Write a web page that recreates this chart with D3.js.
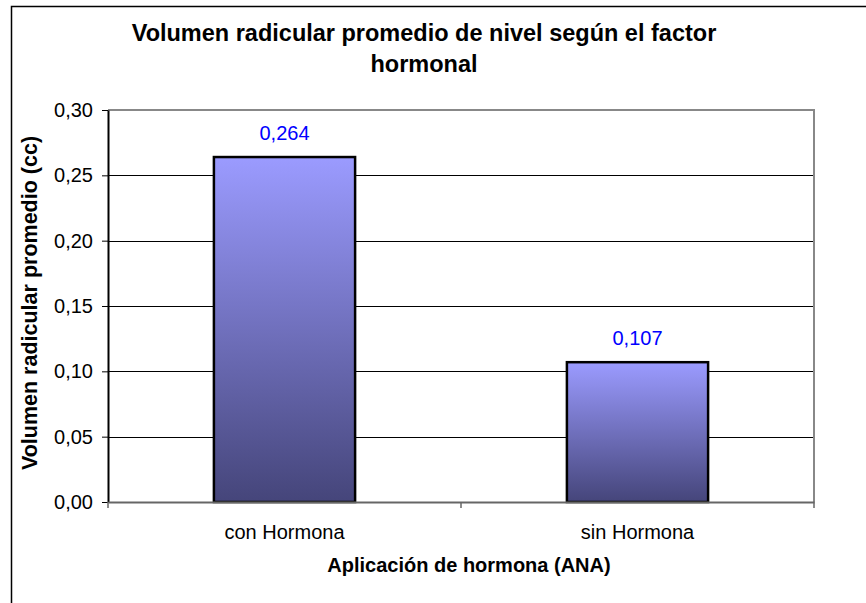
<!DOCTYPE html>
<html>
<head>
<meta charset="utf-8">
<script src="https://cdn.jsdelivr.net/npm/d3@7"></script>
<style>
  body { margin: 0; background: #fff; }
  text { font-family: "Liberation Sans", Arial, sans-serif; }
</style>
</head>
<body>
<div id="chart"></div>
<script>
// data
var categories = ["con Hormona", "sin Hormona"];
var values = [0.264, 0.107];
var yTicks = [0, 0.05, 0.10, 0.15, 0.20, 0.25, 0.30];

var W = 866, H = 603;
var margin = {top: 110, right: 52, bottom: 101, left: 108},
    width = W - margin.left - margin.right,
    height = H - margin.top - margin.bottom;

var comma = function(v, n) { return v.toFixed(n).replace(".", ","); };

var svg = d3.select("#chart").append("svg")
  .attr("width", W).attr("height", H);

// outer chart frame (right and bottom edges fall outside the picture)
svg.append("rect")
  .attr("x", 11.5).attr("y", 6.5)
  .attr("width", W + 20).attr("height", H + 20)
  .attr("fill", "#fff").attr("stroke", "#000").attr("stroke-width", 1.5);

var defs = svg.append("defs");
var grad = defs.append("linearGradient")
  .attr("id", "barFill").attr("x1", 0).attr("y1", 0).attr("x2", 0).attr("y2", 1);
grad.append("stop").attr("offset", "0%").attr("stop-color", "#9b9bff");
grad.append("stop").attr("offset", "100%").attr("stop-color", "#45457a");

var g = svg.append("g").attr("transform", "translate(" + margin.left + "," + margin.top + ")");

var x = d3.scaleBand().domain(categories).range([0, width]).paddingInner(0.6).paddingOuter(0.3);
var xCat = d3.scaleBand().domain(categories).range([0, width]);
var y = d3.scaleLinear().domain([0, 0.30]).range([height, 0]);

// gridlines
g.append("g")
  .selectAll("line")
  .data(yTicks.slice(1, -1))
  .enter().append("line")
  .attr("x1", 0).attr("x2", width)
  .attr("y1", function(d) { return Math.round(y(d)) + 0.5; })
  .attr("y2", function(d) { return Math.round(y(d)) + 0.5; })
  .attr("stroke", "#000").attr("stroke-width", 1);

// plot area top and right edges in gray
g.append("path")
  .attr("d", "M0," + y(0.30) + "H" + width + "V" + height)
  .attr("fill", "none").attr("stroke", "#888").attr("stroke-width", 2);

// bars
g.selectAll(".bar")
  .data(values)
  .enter().append("rect")
  .attr("class", "bar")
  .attr("x", function(d, i) { return x(categories[i]); })
  .attr("width", x.bandwidth())
  .attr("y", function(d) { return y(d); })
  .attr("height", function(d) { return height - y(d); })
  .attr("fill", "url(#barFill)")
  .attr("stroke", "#000").attr("stroke-width", 2.5);

// value labels
g.selectAll(".lbl")
  .data(values)
  .enter().append("text")
  .attr("x", function(d, i) { return x(categories[i]) + x.bandwidth() / 2; })
  .attr("y", function(d) { return y(d) - 17; })
  .attr("text-anchor", "middle")
  .attr("font-size", 20)
  .attr("fill", "#0000ff")
  .text(function(d) { return comma(d, 3); });

// y axis
var yAxis = g.append("g")
  .call(d3.axisLeft(y).tickValues(yTicks).tickSize(6).tickSizeOuter(0)
    .tickFormat(function(d) { return comma(d, 2); }));
yAxis.select(".domain").attr("stroke", "#000").attr("stroke-width", 2);
yAxis.selectAll(".tick line").attr("stroke", "#000");
yAxis.selectAll(".tick text").attr("font-size", 20).attr("fill", "#000")
  .attr("x", -15).attr("font-family", "Liberation Sans, Arial, sans-serif");

// x axis
var xAxis = g.append("g")
  .attr("transform", "translate(0," + height + ")")
  .call(d3.axisBottom(xCat).tickSize(0).tickSizeOuter(0));
xAxis.select(".domain").attr("stroke", "#666").attr("stroke-width", 2);
xAxis.selectAll(".tick text").attr("font-size", 20).attr("fill", "#000")
  .attr("dy", 0).attr("y", 37).attr("font-family", "Liberation Sans, Arial, sans-serif");

// category separator ticks
g.append("g")
  .selectAll("line")
  .data(d3.range(categories.length + 1))
  .enter().append("line")
  .attr("x1", function(i) { return i * xCat.step(); })
  .attr("x2", function(i) { return i * xCat.step(); })
  .attr("y1", height).attr("y2", height + 6)
  .attr("stroke", "#666").attr("stroke-width", 1.5);

// title
var title = svg.append("text")
  .attr("text-anchor", "middle")
  .attr("font-size", 23.5).attr("font-weight", "bold");
title.append("tspan").attr("x", 424).attr("y", 41).text("Volumen radicular promedio de nivel según el factor");
title.append("tspan").attr("x", 424).attr("y", 72).text("hormonal");

// axis titles
svg.append("text")
  .attr("transform", "translate(37,303) rotate(-90)")
  .attr("text-anchor", "middle")
  .attr("font-size", 21.5).attr("font-weight", "bold")
  .text("Volumen radicular promedio (cc)");

svg.append("text")
  .attr("x", margin.left + width / 2 + 8).attr("y", 572)
  .attr("text-anchor", "middle")
  .attr("font-size", 20).attr("font-weight", "bold")
  .text("Aplicación de hormona (ANA)");
</script>
</body>
</html>
